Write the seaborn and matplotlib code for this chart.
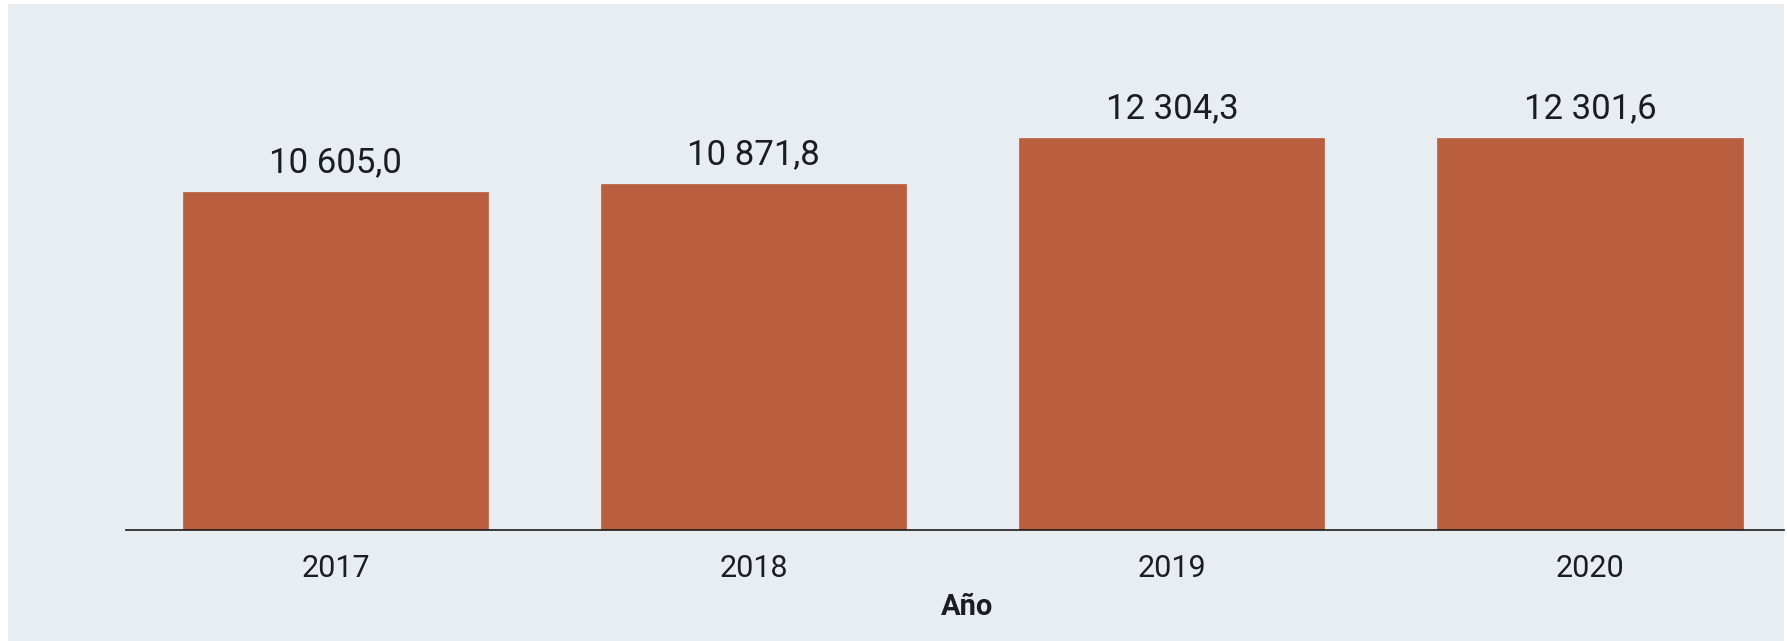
#!/usr/bin/env python3
"""Bar chart: value per year (2017-2020)."""

import matplotlib.pyplot as plt
import pandas as pd
import seaborn as sns
from matplotlib.patches import Rectangle

YEARS = ["2017", "2018", "2019", "2020"]
VALUES = [10605.0, 10871.8, 12304.3, 12301.6]
X_LABEL = "Año"

BAR_COLOR = "#B95F3F"
PANEL_COLOR = "#E8EDF1"
TEXT_COLOR = "#1C1C24"


def fmt_es(v: float) -> str:
    return f"{v:,.1f}".replace(",", " ").replace(".", ",")


def main() -> None:
    sns.set_theme(style="white")
    plt.rcParams["font.family"] = ["Roboto", "DejaVu Sans"]

    df = pd.DataFrame({"year": YEARS, "value": VALUES})

    W, H = 1787, 641
    fig = plt.figure(figsize=(W / 100, H / 100), dpi=100, facecolor="white")
    # light panel behind the chart
    fig.add_artist(
        Rectangle((8 / W, 0), (1784 - 8) / W, (641 - 4) / H,
                  transform=fig.transFigure, facecolor=PANEL_COLOR,
                  edgecolor="none", zorder=-10)
    )

    ax = fig.add_axes([126 / W, 1 - 530 / H, (1784 - 126) / W, (530 - 4) / H])
    ax.set_zorder(1)
    ax.set_facecolor("none")

    sns.barplot(data=df, x="year", y="value", color=BAR_COLOR, width=0.73,
                saturation=1, edgecolor=BAR_COLOR, linewidth=0.5, ax=ax)

    labels = [fmt_es(v) for v in VALUES]
    ax.bar_label(ax.containers[0], labels=labels, padding=9,
                 fontsize=25, color=TEXT_COLOR)

    ax.set_xlim(-0.501, 3.464)
    ax.set_ylim(0, 16505)

    for side in ["top", "left", "right"]:
        ax.spines[side].set_visible(False)
    ax.spines["bottom"].set_color("#1a1a1a")
    ax.spines["bottom"].set_linewidth(1.2)

    ax.set_yticks([])
    ax.set_ylabel("")
    ax.tick_params(axis="x", length=0, pad=17, labelsize=22, labelcolor=TEXT_COLOR)
    ax.set_xlabel(X_LABEL, fontsize=21, fontweight="bold", color=TEXT_COLOR)
    ax.xaxis.set_label_coords(0.5075, -0.12)

    fig.savefig("out.png", dpi=100, facecolor=fig.get_facecolor())
    plt.close(fig)


if __name__ == "__main__":
    main()
